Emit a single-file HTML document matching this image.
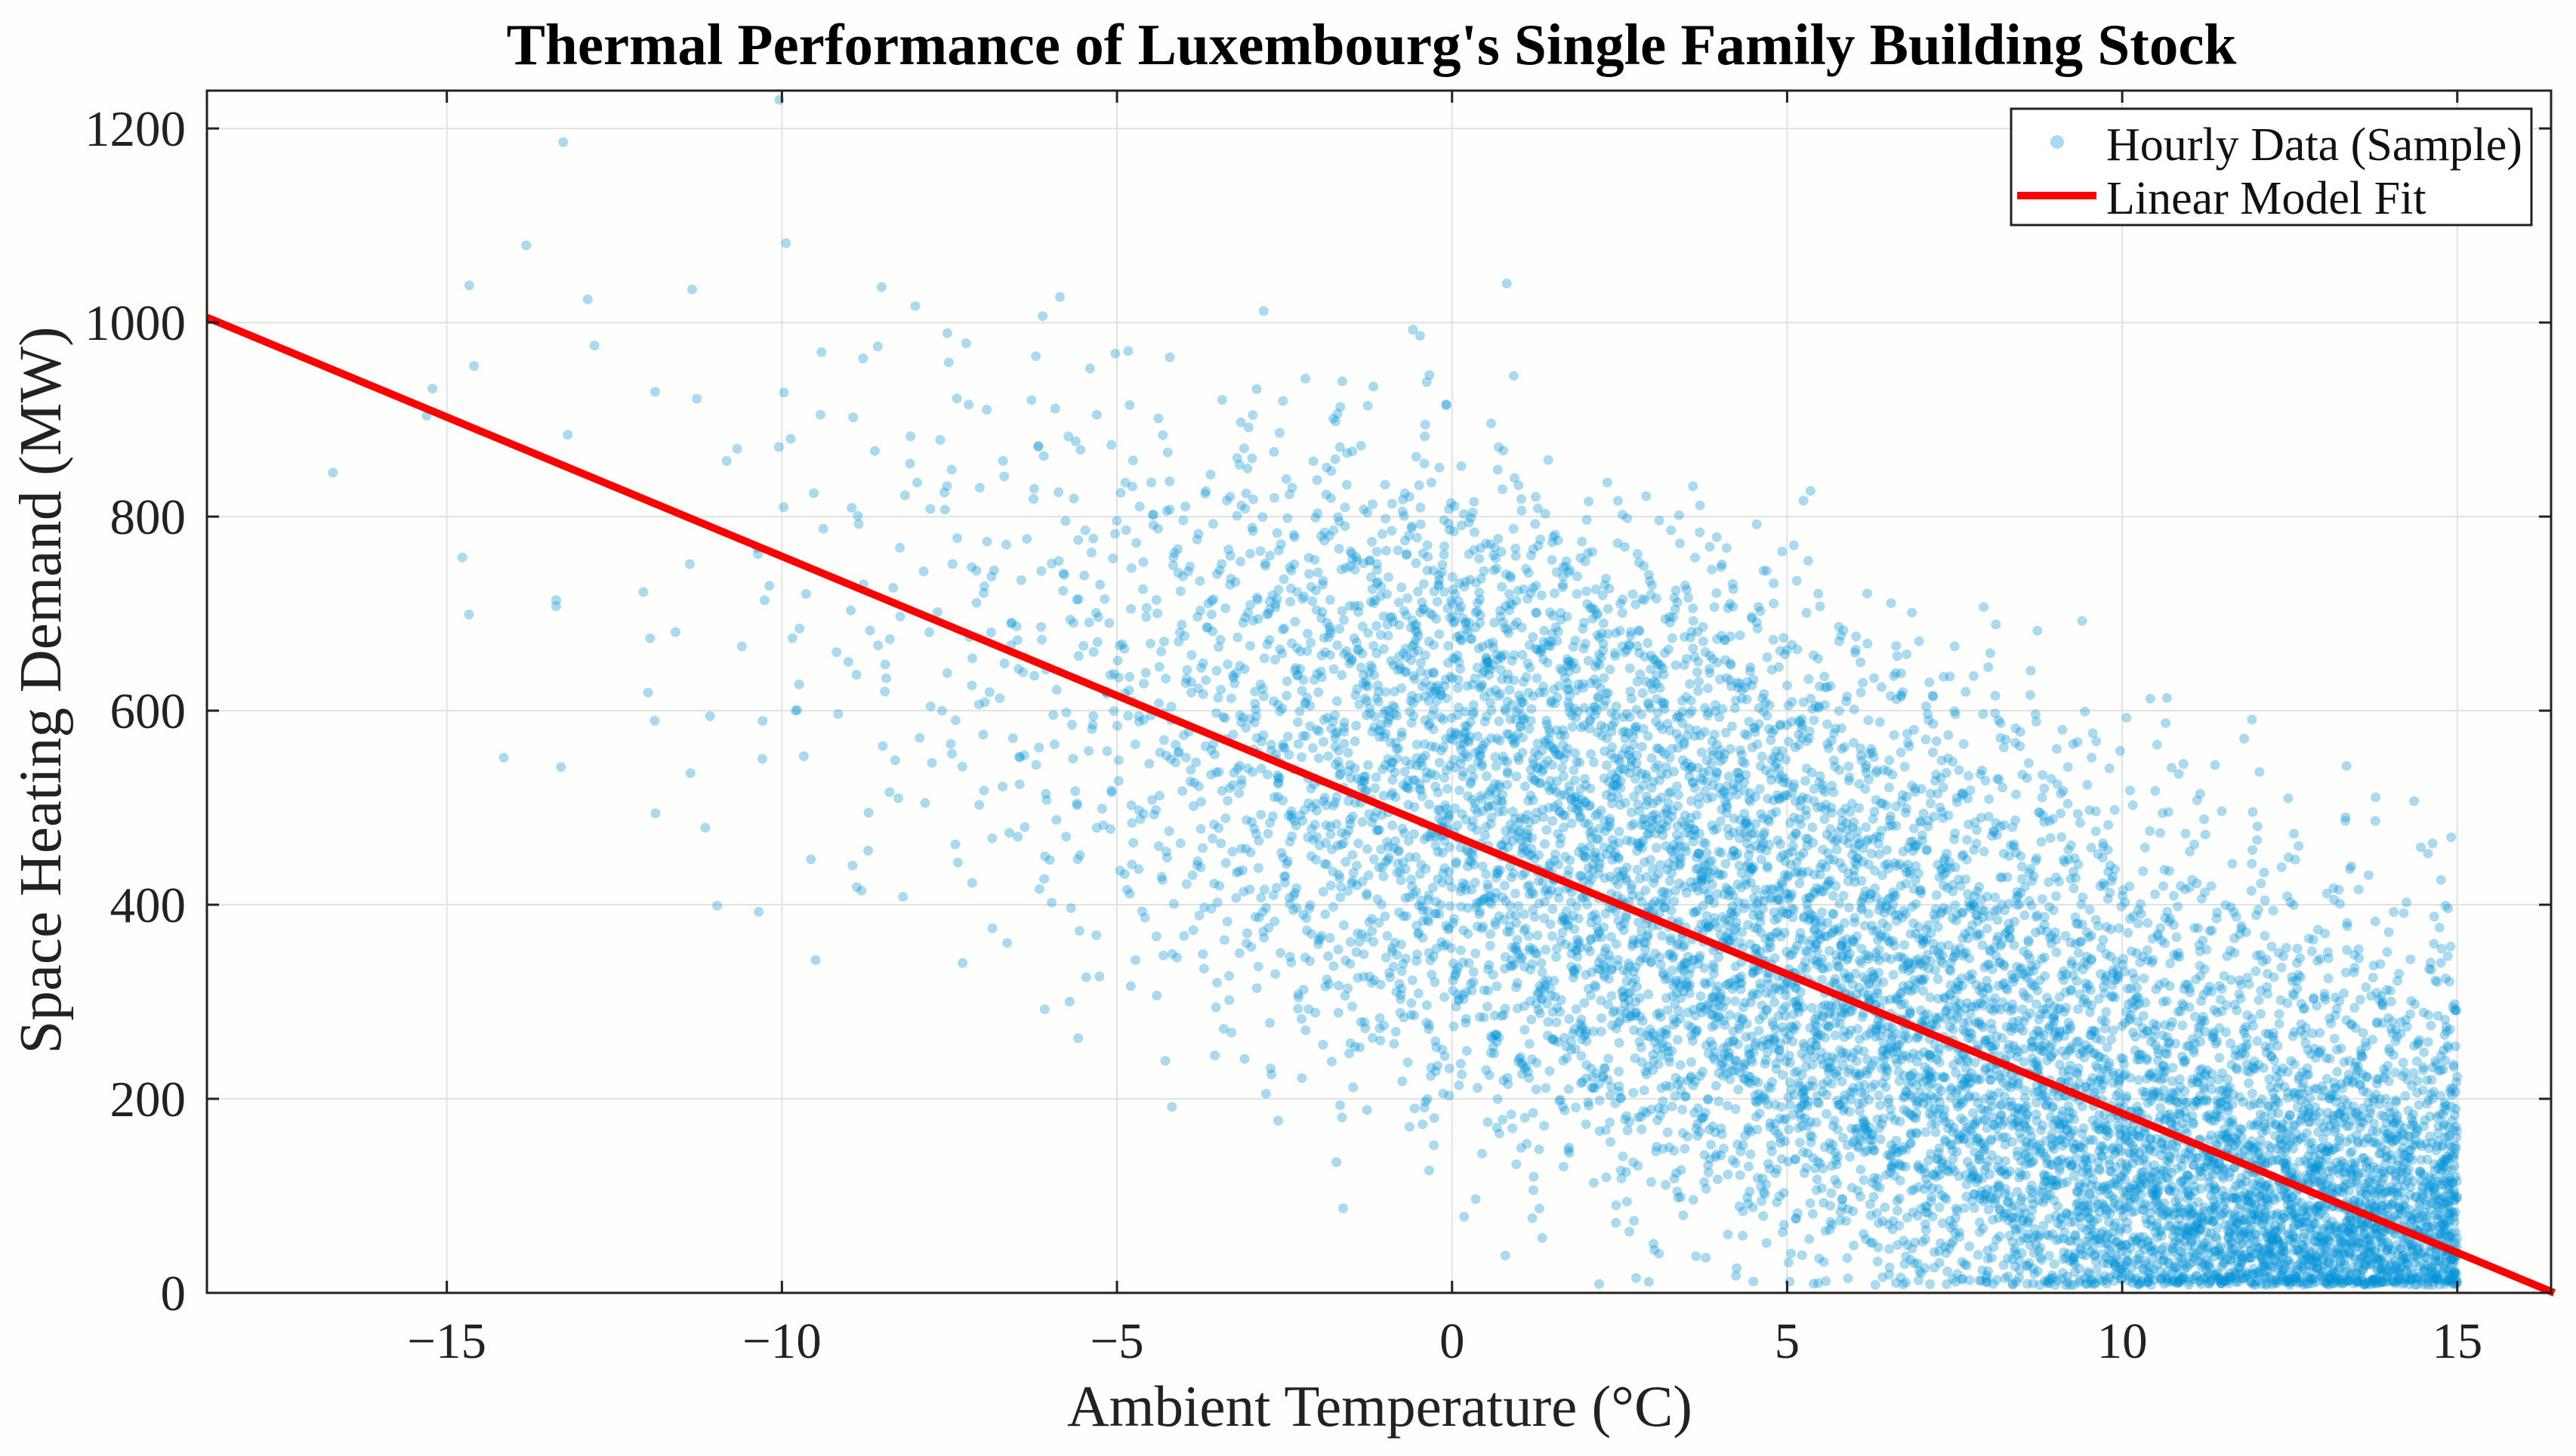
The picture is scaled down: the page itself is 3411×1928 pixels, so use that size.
<!DOCTYPE html>
<html><head><meta charset="utf-8"><style>
html,body{margin:0;padding:0;background:#fefefc;}
svg{display:block;font-family:"Liberation Serif",serif;}
</style></head><body>
<svg id="chart" width="3411" height="1928" viewBox="0 0 3411 1928" xmlns="http://www.w3.org/2000/svg">
<rect width="3411" height="1928" fill="#fefefc"/>
<text x="1816" y="85" text-anchor="middle" font-size="77" font-weight="bold" fill="#000">Thermal Performance of Luxembourg's Single Family Building Stock</text>
<g id="grid"></g>
<g id="points"></g>
<g id="fit"></g>
<g id="axes"></g>
<text x="1827" y="1888" text-anchor="middle" font-size="77" fill="#222">Ambient Temperature (°C)</text>
<text transform="translate(80,914) rotate(-90)" text-anchor="middle" font-size="79" fill="#222">Space Heating Demand (MW)</text>
<g>
<rect x="2663" y="144" width="689" height="154" fill="#fff" stroke="#222" stroke-width="3"/>
<circle cx="2724" cy="188" r="9" fill="#a8dcf2"/>
<text x="2789" y="212" font-size="62" fill="#111">Hourly Data (Sample)</text>
<line x1="2671" y1="259" x2="2776" y2="259" stroke="#ff0000" stroke-width="10"/>
<text x="2789" y="283" font-size="62" fill="#111">Linear Model Fit</text>
</g>
</svg>
<script>
// axis domains
const xDomain = [-18.58, 16.4];
const yDomain = [0, 1239];
const xTicks = [-15, -10, -5, 0, 5, 10, 15];
const xTickLabels = ["\u221215", "\u221210", "\u22125", "0", "5", "10", "15"];
const yTicks = [0, 200, 400, 600, 800, 1000, 1200];
const yTickLabels = ["0", "200", "400", "600", "800", "1000", "1200"];
// density bins: x-bin lower edges (°C, width 2) and y-bin lower edges (MW, width 100)
const xBins = [-19, -17, -15, -13, -11, -9, -7, -5, -3, -1, 1, 3, 5, 7, 9, 11, 13];
const yBins = [0, 100, 200, 300, 400, 500, 600, 700, 800, 900, 1000, 1100];
// counts[xi][yi] : number of sampled hours in each bin
const counts = [
 [0,0,0,0,0,0,0,0,1,0,0,0],
 [0,0,0,0,0,0,0,0,1,1,0,0],
 [0,0,0,0,0,1,1,2,0,3,2,1],
 [0,0,0,0,0,4,3,2,1,3,0,0],
 [0,0,0,1,4,5,8,6,5,4,2,1],
 [0,0,0,0,8,12,14,15,12,8,0,0],
 [0,0,0,5,18,25,30,25,15,10,0,0],
 [0,0,3,20,45,55,60,45,20,5,0,0],
 [0,2,20,70,100,110,110,80,30,5,0,0],
 [0,10,60,120,160,180,180,110,25,5,0,0],
 [5,40,120,170,200,190,150,60,0,0,0,0],
 [15,90,200,220,220,170,100,30,0,0,0,0],
 [50,170,260,230,170,100,40,0,0,0,0,0],
 [150,280,260,190,110,50,15,0,0,0,0,0],
 [350,330,200,120,50,20,0,0,0,0,0,0],
 [550,330,150,70,25,5,0,0,0,0,0,0],
 [650,330,130,50,10,0,0,0,0,0,0,0]
];
// linear model fit: intercept (MW at 0°C) and slope (MW/°C)
const fitIntercept = [472];
const fitSlope = [-28.7];

const PL = 274, PR = 3378, PT = 120, PB = 1712;
const sx = v => PL + (v - xDomain[0]) / (xDomain[1] - xDomain[0]) * (PR - PL);
const sy = v => PB - (v - yDomain[0]) / (yDomain[1] - yDomain[0]) * (PB - PT);
const NS = "http://www.w3.org/2000/svg";
function mk(tag, attrs, parent) {
  const e = document.createElementNS(NS, tag);
  for (const k in attrs) e.setAttribute(k, attrs[k]);
  parent.appendChild(e);
  return e;
}
const grid = document.getElementById('grid');
const axes = document.getElementById('axes');
xTicks.forEach((t, i) => {
  const x = sx(t);
  const g = mk('line', {x1: x, x2: x, y1: PT, y2: PB, stroke: '#e2e2e2', 'stroke-width': 2}, grid);
  
  
  const a = mk('line', {x1: x, x2: x, y1: PB, y2: PB - 16, stroke: '#222', 'stroke-width': 3}, axes);
  
  
  const b = mk('line', {x1: x, x2: x, y1: PT, y2: PT + 16, stroke: '#222', 'stroke-width': 3}, axes);
  
  
  const tx = mk('text', {x: x, y: 1798, 'text-anchor': 'middle', 'font-size': 67, fill: '#222'}, axes);
  tx.textContent = xTickLabels[i];
  
  
});
yTicks.forEach((t, i) => {
  const y = sy(t);
  const g = mk('line', {x1: PL, x2: PR, y1: y, y2: y, stroke: '#e2e2e2', 'stroke-width': 2}, grid);
  
  
  const a = mk('line', {x1: PL, x2: PL + 16, y1: y, y2: y, stroke: '#222', 'stroke-width': 3}, axes);
  
  
  const b = mk('line', {x1: PR, x2: PR - 16, y1: y, y2: y, stroke: '#222', 'stroke-width': 3}, axes);
  
  
  const tx = mk('text', {x: 246, y: y + 23, 'text-anchor': 'end', 'font-size': 67, fill: '#222'}, axes);
  tx.textContent = yTickLabels[i];
  
  
});
const frame = mk('rect', {x: PL, y: PT, width: PR - PL, height: PB - PT, fill: 'none', stroke: '#222', 'stroke-width': 3}, axes);



// points: place each bin's count using a deterministic low-discrepancy layout (triangular spread to soften bin edges)
function halton(i, b) { let f = 1, r = 0; while (i > 0) { f /= b; r += f * (i % b); i = Math.floor(i / b); } return r; }
const pts = document.getElementById('points');
let idx = 1;
let html = '';
counts.forEach((col, xi) => {
  col.forEach((n, yi) => {
    for (let k = 0; k < n; k++) {
      let xv = xBins[xi] + 2 * (halton(idx, 2) + halton(idx, 5)) - 1;
      let yv = yBins[yi] + 100 * (halton(idx, 3) + halton(idx, 7)) - 50;
      idx++;
      if (xv > 15) xv = 15 - (xv - 15) * 0.5;
      if (xv < xDomain[0]) continue;
      if (yv < 0) yv = -yv;
      if (yv < 8) yv = 8 + yv;
      html += '<circle cx="' + sx(xv).toFixed(1) + '" cy="' + sy(yv).toFixed(1) + '" r="6.5"/>';
    }
  });
});
pts.setAttribute('fill', 'rgb(0,145,215)');
pts.setAttribute('fill-opacity', '0.33');
pts.innerHTML = html;

// fit line
const fit = document.getElementById('fit');
const fx0 = xDomain[0], fx1 = (0 - fitIntercept[0]) / fitSlope[0];
const fl = mk('line', {x1: sx(fx0), y1: sy(fitIntercept[0] + fitSlope[0] * fx0), x2: sx(fx1), y2: sy(0), stroke: '#ff0000', 'stroke-width': 10}, fit);


</script>
</body></html>
